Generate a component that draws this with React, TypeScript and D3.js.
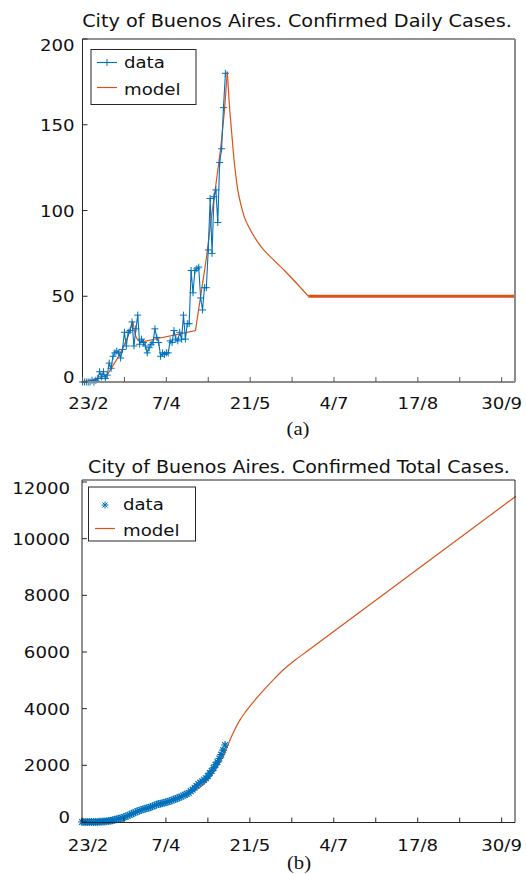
import React from "react";
import * as d3 from "d3";

// ---- data ----
const dailyCases = [
  0, 0, 0, 0, 0, 1, 0, 1, 2, 6, 3, 6, 2, 4, 11, 8, 15, 17, 18, 17, 14, 19,
  29, 21, 29, 30, 35, 21, 31, 39, 22, 25, 23, 21, 17, 20, 22, 23, 31, 26, 23,
  15, 17, 16, 17, 17, 24, 23, 30, 25, 24, 29, 25, 39, 25, 34, 34, 65, 52, 65,
  66, 67, 49, 42, 55, 55, 77, 107, 75, 108, 112, 93, 128, 136, 160, 180,
];
const modelDailyDay = [
  0, 5, 9, 13.5, 16.2, 19, 21.5, 24, 26.4, 27.2, 28, 29, 30.5, 32, 40, 50, 59.3,
  62, 65, 67.5, 70, 72.5, 74.5, 76, 76.5, 77, 77.8, 78.7, 79.5, 80.4, 81.5, 83,
  85, 87.5, 90, 93.7, 100, 106, 112, 118.5, 227.5,
];
const modelDailyVal = [
  0.3, 1, 2.2, 5, 10, 15, 20.6, 27, 35.5, 30, 26.5, 24.5, 23.5, 23.5, 25.5,
  27.8, 30, 50, 72, 95, 115, 136, 158, 181, 172, 163, 152, 140, 130, 121, 112,
  104, 96, 90, 85, 79, 71.5, 65, 58, 50, 50,
];
const modelTotalDay = [
  0, 10, 15, 20, 25, 27, 30, 35, 40, 45, 50, 55, 59, 62, 65, 68, 71, 74, 76, 78,
  80, 83, 86, 90, 93.7, 100, 106, 112, 118.5, 227.5,
];
const modelTotalVal = [
  0, 15, 40, 100, 210, 270, 360, 480, 600, 725, 850, 985, 1100, 1230, 1420,
  1660, 1960, 2330, 2640, 2960, 3250, 3620, 3910, 4250, 4540, 5000, 5400, 5730,
  6050, 11500,
];
const xTickDays = [0, 22, 44, 66, 88, 110, 132, 154, 176, 198, 220];
const xTickLabels = ["23/2", "7/4", "21/5", "4/7", "17/8", "30/9"];
const yTicksDaily = [0, 50, 100, 150, 200];
const yTicksTotal = [0, 2000, 4000, 6000, 8000, 10000, 12000];
const titles = [
  "City of Buenos Aires. Confirmed Daily Cases.",
  "City of Buenos Aires. Confirmed Total Cases.",
];
const legendLabels = ["data", "model"];
const captions = ["(a)", "(b)"];

const BLUE = "#0072BD";
const ORANGE = "#D95319";
const FONT = "DejaVu Sans";

function T({ x, y, children, size = 16.5, anchor = "middle", sx = 1.1, family = FONT }: any) {
  return (
    <text
      transform={`translate(${x},${y}) scale(${sx},1)`}
      fontSize={size}
      textAnchor={anchor}
      fontFamily={family}
      fill="#111"
    >
      {children}
    </text>
  );
}

function plus(x: number, y: number, r: number) {
  return `M${x - r},${y}H${x + r}M${x},${y - r}V${y + r}`;
}
function star(x: number, y: number, r: number) {
  const q = r * 0.72;
  return `M${x - r},${y}H${x + r}M${x},${y - r}V${y + r}M${x - q},${y - q}L${x + q},${y + q}M${x - q},${y + q}L${x + q},${y - q}`;
}

export default function App() {
  const days = dailyCases.map((_, i) => i);
  const totals = Array.from(d3.cumsum(dailyCases));

  // top panel
  const L1 = 82.5, R1 = 515, T1 = 39, B1 = 382;
  const x1 = d3.scaleLinear().domain([0, 227]).range([L1, R1]);
  const y1 = d3.scaleLinear().domain([0, 200]).range([B1, T1]);
  // bottom panel
  const L2 = 82, R2 = 515, T2 = 480, B2 = 822.5;
  const x2 = d3.scaleLinear().domain([0, 227]).range([L2, R2]);
  const y2 = d3.scaleLinear().domain([0, 12000]).range([822, 482]);

  const dataLine = d3
    .line<number>()
    .x((_, i) => x1(days[i]))
    .y((d) => y1(d));
  const modelDaily = modelDailyDay.map((d, i) => [d, modelDailyVal[i]] as [number, number]);
  const mLine1 = d3
    .line<[number, number]>()
    .x((d) => x1(d[0]))
    .y((d) => y1(d[1]));
  const rise = modelDaily.filter((d) => d[0] <= 76);
  const decay = modelDaily.filter((d) => d[0] >= 76 && d[0] <= 118.5);
  const flatPart = modelDaily.filter((d) => d[0] >= 118.5);
  const smooth = d3
    .line<[number, number]>()
    .x((d) => x1(d[0]))
    .y((d) => y1(d[1]))
    .curve(d3.curveMonotoneX);
  const modelTotal = modelTotalDay.map((d, i) => [d, modelTotalVal[i]] as [number, number]);
  const mLine2 = d3
    .line<[number, number]>()
    .x((d) => x2(d[0]))
    .y((d) => y2(d[1]))
    .curve(d3.curveMonotoneX);

  const axisDark = "#262626";

  return (
    <svg
      width={526}
      height={874}
      style={{ position: "absolute", left: 0, top: 0, background: "#fff" }}
    >
      <rect x={0} y={0} width={526} height={874} fill="#fff" />
      {/* ---------- TOP PANEL ---------- */}
      <T x={297} y={26.7} size={18.5} sx={1.04}>{titles[0]}</T>
      <g>
        <path d={mLine1(rise) || ""} fill="none" stroke={ORANGE} strokeWidth={1.2} />
        <path d={smooth(decay) || ""} fill="none" stroke={ORANGE} strokeWidth={1.2} />
        <path d={mLine1(flatPart) || ""} fill="none" stroke={ORANGE} strokeWidth={3.2} />
        <path d={dataLine(dailyCases) || ""} fill="none" stroke={BLUE} strokeWidth={1.1} />
        <path
          d={dailyCases.map((v, i) => plus(x1(days[i]), y1(v), 3.5)).join("")}
          fill="none"
          stroke={BLUE}
          strokeWidth={1}
        />
      </g>
      {/* axes */}
      <line x1={L1} x2={R1} y1={T1} y2={T1} stroke={axisDark} strokeWidth={1} />
      <line x1={L1} x2={L1} y1={T1} y2={B1} stroke={axisDark} strokeWidth={1} />
      <line x1={L1} x2={R1} y1={B1} y2={B1} stroke="#8c8c8c" strokeWidth={2} />
      <line x1={R1} x2={R1} y1={T1} y2={B1} stroke="#8c8c8c" strokeWidth={2} />
      {xTickDays.map((d) => (
        <line key={d} x1={x1(d)} x2={x1(d)} y1={B1} y2={B1 - 5} stroke="#555" strokeWidth={1} />
      ))}
      {yTicksDaily.map((v) => (
        <line key={v} x1={L1} x2={L1 + 5} y1={y1(v)} y2={y1(v)} stroke={axisDark} strokeWidth={1} />
      ))}
      {xTickLabels.map((lab, i) => (
        <T key={lab} x={x1(xTickDays[i * 2]) + (i === 0 ? 6 : 0)} y={408.7}>{lab}</T>
      ))}
      {yTicksDaily.map((v, i) => (
        <T
          key={v}
          x={74.5}
          y={y1(v) + 6 + (i === 0 ? -5 : i === yTicksDaily.length - 1 ? 6 : 0)}
          anchor="end"
        >
          {v}
        </T>
      ))}
      {/* legend */}
      <rect x={91} y={49.5} width={105} height={55} fill="#fff" stroke={axisDark} strokeWidth={1} />
      <line x1={97} x2={117} y1={62.5} y2={62.5} stroke={BLUE} strokeWidth={1.1} />
      <path d={plus(107, 62.5, 3.5)} stroke={BLUE} strokeWidth={1} />
      <T x={124} y={68} anchor="start">{legendLabels[0]}</T>
      <line x1={97} x2={117} y1={87.5} y2={87.5} stroke={ORANGE} strokeWidth={1.2} />
      <T x={124} y={95} anchor="start">{legendLabels[1]}</T>
      <T x={298} y={434.7} size={18} sx={1.15} family="Liberation Serif">{captions[0]}</T>

      {/* ---------- BOTTOM PANEL ---------- */}
      <T x={299} y={473} size={18.5} sx={1.03}>{titles[1]}</T>
      <g>
        <path d={mLine2(modelTotal) || ""} fill="none" stroke={ORANGE} strokeWidth={1.2} />
        <path
          d={totals.map((v, i) => star(x2(days[i]), y2(v), 4)).join("")}
          fill="none"
          stroke={BLUE}
          strokeWidth={1.2}
        />
      </g>
      <line x1={L2} x2={R2} y1={T2} y2={T2} stroke={axisDark} strokeWidth={1} />
      <line x1={L2} x2={L2} y1={T2} y2={B2} stroke={axisDark} strokeWidth={1} />
      <line x1={L2} x2={R2} y1={B2} y2={B2} stroke={axisDark} strokeWidth={1} />
      <line x1={R2} x2={R2} y1={T2} y2={B2} stroke={axisDark} strokeWidth={1} />
      {xTickDays.map((d) => (
        <line key={d} x1={x2(d)} x2={x2(d)} y1={B2} y2={B2 - 5} stroke={axisDark} strokeWidth={1} />
      ))}
      {yTicksTotal.map((v) => (
        <line key={v} x1={L2} x2={L2 + 5} y1={y2(v)} y2={y2(v)} stroke={axisDark} strokeWidth={1} />
      ))}
      {xTickLabels.map((lab, i) => (
        <T key={lab} x={x2(xTickDays[i * 2]) + (i === 0 ? 6 : 0)} y={851}>{lab}</T>
      ))}
      {yTicksTotal.map((v, i) => (
        <T
          key={v}
          x={70}
          y={y2(v) + 6 + (i === 0 ? -5 : i === yTicksTotal.length - 1 ? 5.5 : 0)}
          anchor="end"
        >
          {v}
        </T>
      ))}
      <rect x={88.5} y={487} width={107} height={54} fill="#fff" stroke={axisDark} strokeWidth={1} />
      <path d={star(105, 505, 3.5)} stroke={BLUE} strokeWidth={1} />
      <T x={123} y={510} anchor="start">{legendLabels[0]}</T>
      <line x1={95} x2={115} y1={528.5} y2={528.5} stroke={ORANGE} strokeWidth={1.2} />
      <T x={123} y={535.5} anchor="start">{legendLabels[1]}</T>
      <T x={299} y={869.4} size={18} sx={1.15} family="Liberation Serif">{captions[1]}</T>
    </svg>
  );
}
